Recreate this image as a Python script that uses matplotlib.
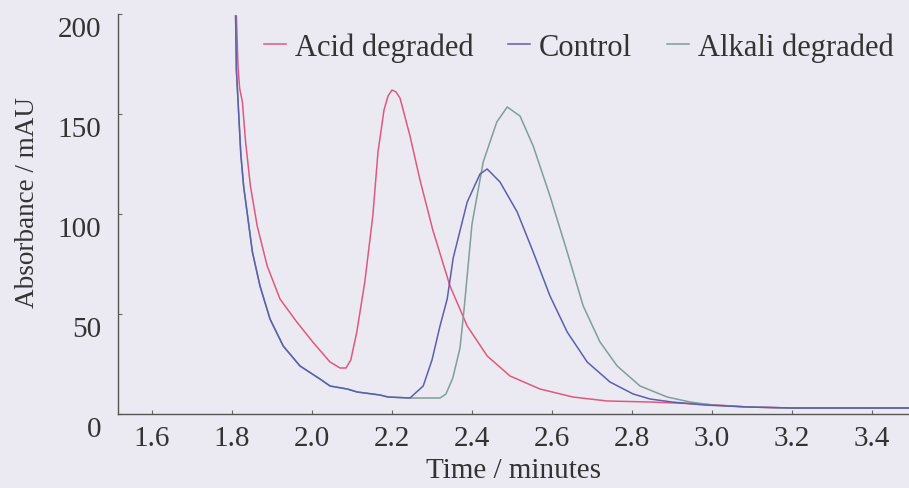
import matplotlib
matplotlib.use("Agg")
import matplotlib.pyplot as plt
from matplotlib.transforms import ScaledTranslation

# ---- data ----
acid_t = [1.811, 1.815, 1.819, 1.826, 1.834, 1.846, 1.863, 1.888, 1.92, 1.962, 2.002, 2.045,
          2.07, 2.085, 2.097, 2.112, 2.132, 2.152, 2.165, 2.18, 2.19, 2.2, 2.21, 2.22, 2.245,
          2.27, 2.302, 2.345, 2.388, 2.438, 2.495, 2.57, 2.652, 2.738, 2.845, 2.97, 3.09, 3.2,
          3.35, 3.5]
acid_y = [199, 174, 163, 156, 136, 114, 94, 74, 57.5, 46, 36, 26,
          23, 23, 27, 41, 66, 99, 131, 152, 159, 162, 161, 158, 139,
          117, 92, 64, 44, 29, 19, 12.5, 8.5, 6.5, 6, 5, 3.5, 3,
          3, 3]

control_t = [1.809, 1.811, 1.822, 1.829, 1.839, 1.851, 1.87, 1.895, 1.928, 1.97, 2.02, 2.045,
             2.088, 2.113, 2.17, 2.19, 2.245, 2.278, 2.3, 2.32, 2.338, 2.353, 2.388, 2.42,
             2.438, 2.47, 2.513, 2.553, 2.595, 2.638, 2.688, 2.745, 2.803, 2.845, 2.9, 2.98,
             3.09, 3.2, 3.35, 3.5]
control_y = [199, 172, 130, 114, 99, 81, 64, 47.5, 34, 24, 17.5, 14,
             12.5, 11, 9.5, 8.5, 8, 14, 27, 44, 57.5, 78, 106, 120,
             122.5, 116, 101, 81, 59, 41, 26, 16, 10, 7.5, 6, 4.5,
             3.5, 3, 3, 3]

alkali_t = [1.809, 1.811, 1.822, 1.829, 1.839, 1.851, 1.87, 1.895, 1.928, 1.97, 2.02, 2.045,
            2.088, 2.113, 2.17, 2.19, 2.245, 2.32, 2.335, 2.352, 2.37, 2.38, 2.40, 2.428,
            2.462, 2.488, 2.52, 2.553, 2.595, 2.638, 2.678, 2.72, 2.763, 2.82, 2.888, 2.945,
            3.0, 3.09, 3.2, 3.35, 3.5]
alkali_y = [199, 172, 130, 114, 99, 81, 64, 47.5, 34, 24, 17.5, 14,
            12.5, 11, 9.5, 8.5, 8, 8, 10, 18, 33, 52, 95, 126,
            146, 153.5, 149, 134, 109, 81, 54, 36, 24, 14, 8.5, 6,
            4.5, 3.5, 3, 3, 3]

x_ticks = [1.6, 1.8, 2.0, 2.2, 2.4, 2.6, 2.8, 3.0, 3.2, 3.4]
y_ticks = [0, 50, 100, 150, 200]

# ---- style ----
plt.rcParams['font.family'] = ['Liberation Serif', 'DejaVu Serif']
bg = '#ebeaf2'
txt = '#333333'

fig = plt.figure(figsize=(9.09, 4.89), dpi=100, facecolor=bg)
ax = fig.add_axes([118/909, (489-415)/489, (909-118)/909, 400/489])
ax.set_facecolor(bg)

ax.plot(acid_t, acid_y, color='#e0587f', lw=1.1, label='Acid degraded')
ax.plot(alkali_t, alkali_y, color='#819e99', lw=1.1, label='Alkali degraded', zorder=2)
ax.plot(control_t, control_y, color='#5c5fae', lw=1.1, label='Control', zorder=3)

ax.set_xlim(1.515, 3.4925)
ax.set_ylim(0, 200)
ax.set_xticks(x_ticks)
ax.set_xticklabels([f"{v:.1f}" for v in x_ticks])
ax.set_yticks(y_ticks)
ax.set_yticklabels([str(v) for v in y_ticks])

for s in ['top', 'right']:
    ax.spines[s].set_visible(False)
for s in ['left', 'bottom']:
    ax.spines[s].set_color('#555555')
    ax.spines[s].set_linewidth(1.0)

ax.tick_params(axis='both', direction='in', length=3, width=0.8, color='#666666',
               labelsize=21, labelcolor=txt)
ax.tick_params(axis='y', pad=12)
ax.tick_params(axis='x', pad=8)

off = ScaledTranslation(0, -12/100, fig.dpi_scale_trans)
for lab in ax.get_yticklabels():
    lab.set_transform(lab.get_transform() + off)

ax.set_xlabel('Time / minutes', fontsize=21, color=txt, labelpad=4)
ax.set_ylabel('Absorbance / mAU', fontsize=19.5, color=txt)
ax.yaxis.set_label_coords(-0.098, 0.532)

h, l = ax.get_legend_handles_labels()
order = [0, 2, 1]
leg = ax.legend([h[i] for i in order], [l[i] for i in order], loc='upper right',
                bbox_to_anchor=(0.996, 0.985), ncol=3, frameon=False, fontsize=22,
                handlelength=0.7, handletextpad=0.3, columnspacing=1.15, borderaxespad=0)
for t in leg.get_texts():
    t.set_color(txt)

fig.savefig('out.png', dpi=100, facecolor=bg)
